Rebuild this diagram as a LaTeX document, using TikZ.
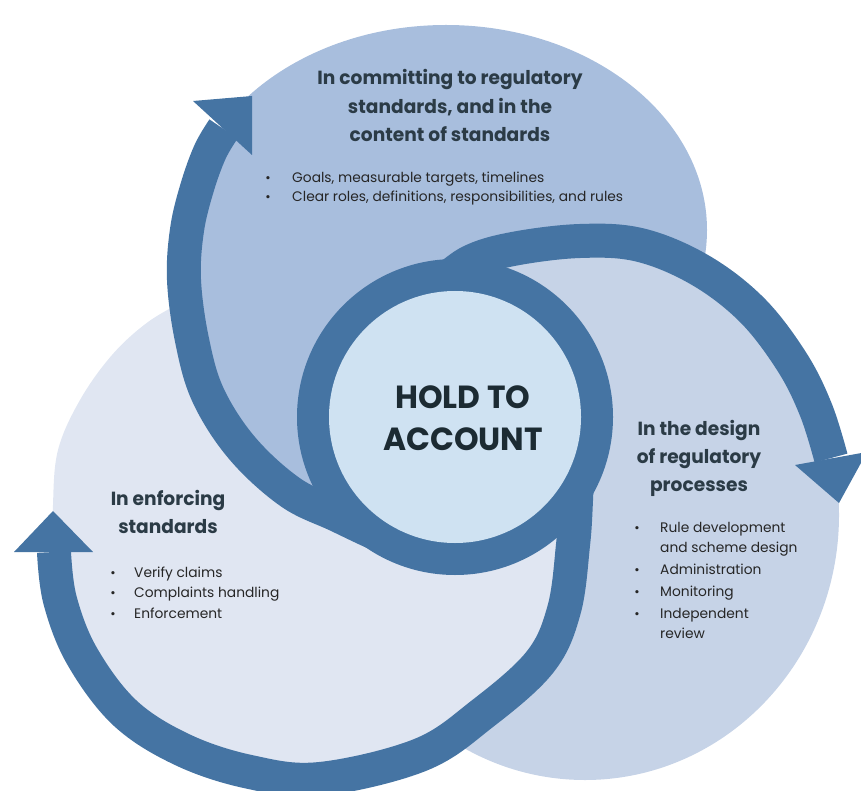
\documentclass[tikz,border=0pt]{standalone}
\usepackage{fontspec}
\setmainfont{Poppins}
\newfontfamily\bodyfont[FakeStretch=1.0]{Poppins}
\newfontfamily\headfont[FakeStretch=0.98]{Poppins}
\definecolor{arrowblue}{HTML}{4574A3}
\definecolor{topfill}{HTML}{A8BEDD}
\definecolor{rightfill}{HTML}{C6D3E7}
\definecolor{leftfill}{HTML}{E0E6F2}
\definecolor{centerfill}{HTML}{CFE2F2}
\definecolor{titlecol}{HTML}{2B3B46}
\definecolor{textcol}{HTML}{262626}
\definecolor{centercol}{HTML}{1C2B33}
\tikzset{
  arrowline/.style={draw=arrowblue, line width=34pt, line cap=butt},
  headtri/.style={fill=arrowblue},
  titletext/.style={anchor=base, inner sep=0pt, text=titlecol, font=\headfont\bfseries\fontsize{19}{21}\selectfont},
  bodytext/.style={anchor=base west, inner sep=0pt, text=textcol, font=\bodyfont\fontsize{13.8}{15}\selectfont},
  bullettext/.style={anchor=base, inner sep=0pt, text=textcol, font=\bodyfont\fontsize{13}{15}\selectfont},
  centertext/.style={anchor=base, inner sep=0pt, text=centercol, font=\headfont\bfseries\fontsize{32}{36}\selectfont},
}
\begin{document}
\begin{tikzpicture}[x=1pt,y=-1pt]
\useasboundingbox (0,0) rectangle (861,791);
% key points
\coordinate (RC) at (455,417);
\coordinate (TC) at (446,230);
% top arrow centerline
\coordinate (T0) at (440,556);
\coordinate (T1) at (387,538);
\coordinate (T2) at (337,515);
\coordinate (T3) at (290,492);
\coordinate (T4) at (242,448);
\coordinate (T5) at (208,395);
\coordinate (T6) at (192,340);
\coordinate (T7) at (184,280);
\coordinate (T8) at (187,230);
\coordinate (T9) at (197,188);
\coordinate (T10) at (210,152);
\coordinate (T11) at (223.5,129);
% right arrow centerline
\coordinate (R0) at (440,285);
\coordinate (R1) at (470,262);
\coordinate (R2) at (513,249);
\coordinate (R3) at (580,241);
\coordinate (R4) at (640,245);
\coordinate (R5) at (700,270);
\coordinate (R6) at (752,310);
\coordinate (R7) at (792,362);
\coordinate (R8) at (816,410);
\coordinate (R9) at (831,458);
% bottom arrow centerline
\coordinate (B0) at (578,440);
\coordinate (B1) at (576,500);
\coordinate (B2) at (573,545);
\coordinate (B3) at (564,610);
\coordinate (B4) at (540,662);
\coordinate (B5) at (482,714);
\coordinate (B6) at (420,755);
\coordinate (B7) at (320,779);
\coordinate (B8) at (250,772);
\coordinate (B9) at (183,750);
\coordinate (B10) at (125,713);
\coordinate (B11) at (82,656);
\coordinate (B12) at (60,600);
\coordinate (B13) at (54,552);
% left region outer boundary
\coordinate (L1) at (53,505);
\coordinate (L2) at (58,450);
\coordinate (L3) at (80,400);
\coordinate (L4) at (112,355);
\coordinate (L5) at (148,322);
\coordinate (L6) at (186,300);

% regions
\fill[topfill] (TC) ellipse [x radius=261, y radius=205];
\fill[rightfill] (585,515) ellipse [x radius=254, y radius=265];
\fill[topfill] (TC) -- plot[smooth,tension=0.6] coordinates {(T8) (T7) (T6) (T5) (T4) (T3) (T2) (T1) (T0)} -- (RC) -- cycle;
\fill[leftfill] (RC) -- plot[smooth,tension=0.6] coordinates {(B0) (B1) (B2) (B3) (B4) (B5) (B6) (B7) (B8) (B9) (B10) (B11) (B12) (B13)}
  -- plot[smooth,tension=0.6] coordinates {(B13) (L1) (L2) (L3) (L4) (L5) (L6)}
  -- plot[smooth,tension=0.6] coordinates {(T6) (T5) (T4) (T3) (T2) (T1) (T0)} -- cycle;

% arrows
\draw[arrowline] plot[smooth,tension=0.6] coordinates {(T0) (T1) (T2) (T3) (T4) (T5) (T6) (T7) (T8) (T9) (T10) (T11)};
\fill[headtri] (193,101) -- (252,96) -- (252,155) -- cycle;
\draw[arrowline] plot[smooth,tension=0.6] coordinates {(R0) (R1) (R2) (R3) (R4) (R5) (R6) (R7) (R8) (R9)};
\fill[headtri] (795,465) -- (867,452) -- (839,503) -- cycle;
\draw[arrowline] plot[smooth,tension=0.6] coordinates {(B0) (B1) (B2) (B3) (B4) (B5) (B6) (B7) (B8) (B9) (B10) (B11) (B12) (B13)};
\fill[headtri] (14,552) -- (93,552) -- (53,511) -- cycle;

% centre ring
\fill[arrowblue] (RC) circle [radius=158];
\fill[centerfill] (RC) circle [radius=126];
\node[centertext] (c1) at (463,408) {HOLD TO};
\node[centertext] (c2) at (463,450) {ACCOUNT};

% top block
\node[titletext] (h1) at (450,85) {In committing to regulatory};
\node[titletext] (h2) at (450,114) {standards, and in the};
\node[titletext] (h3) at (450,142) {content of standards};
\node[bullettext] (hb1) at (268,183) {•};
\node[bodytext] (ht1) at (292,183) {Goals, measurable targets, timelines};
\node[bullettext] (hb2) at (268,202) {•};
\node[bodytext] (ht2) at (292,202) {Clear roles, definitions, responsibilities, and rules};

% right block
\node[titletext] (r1) at (699,435) {In the design};
\node[titletext] (r2) at (699,463) {of regulatory};
\node[titletext] (r3) at (699,491) {processes};
\node[bullettext] (rb1) at (637,532) {•};
\node[bodytext] (rt1) at (660,532) {Rule development};
\node[bodytext] (rt1b) at (660,552) {and scheme design};
\node[bullettext] (rb2) at (637,574) {•};
\node[bodytext] (rt2) at (660,574) {Administration};
\node[bullettext] (rb3) at (637,596) {•};
\node[bodytext] (rt3) at (660,596) {Monitoring};
\node[bullettext] (rb4) at (637,618) {•};
\node[bodytext] (rt4) at (660,618) {Independent};
\node[bodytext] (rt4b) at (660,638) {review};

% left block
\node[titletext] (l1) at (168,505) {In enforcing};
\node[titletext] (l2) at (168,533) {standards};
\node[bullettext] (lb1) at (113,577) {•};
\node[bodytext] (lt1) at (134,577) {Verify claims};
\node[bullettext] (lb2) at (113,597) {•};
\node[bodytext] (lt2) at (134,597) {Complaints handling};
\node[bullettext] (lb3) at (113,618) {•};
\node[bodytext] (lt3) at (134,618) {Enforcement};
\end{tikzpicture}
\end{document}
